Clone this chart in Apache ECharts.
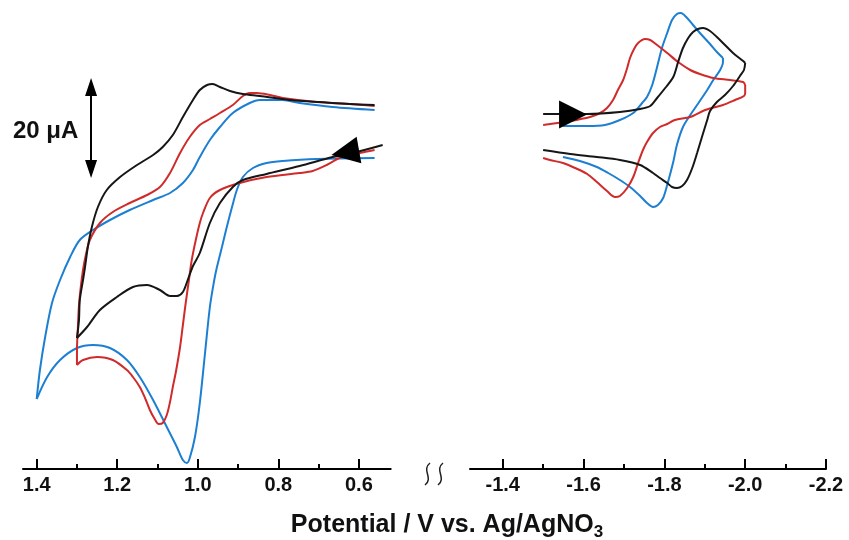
<!DOCTYPE html>
<html>
<head>
<meta charset="utf-8">
<script src="https://cdn.jsdelivr.net/npm/echarts@6/dist/echarts.min.js"></script>
<style>html,body{margin:0;padding:0;background:#fff}#chart{width:849px;height:540px}</style>
</head>
<body>
<div id="chart"></div>
<script>
// ---- Data: potential (V vs Ag/AgNO3), current (µA, arbitrary zero) ----
// Left panel (oxidation), forward scan (toward positive) and return scan
const leftBlackFwd = [[0.541,24.8],[0.605,23.4],[0.665,22.4],[0.747,20.6],[0.829,19.0],[0.888,17.8],[0.913,16.4],[0.945,13.2],[0.970,9.2],[0.995,3.2],[1.012,0.6],[1.025,-2.2],[1.037,-4.6],[1.052,-5.4],[1.069,-5.4],[1.094,-4.2],[1.126,-3.2],[1.161,-3.6],[1.201,-5.6],[1.243,-8.2],[1.275,-11.6],[1.300,-13.8]];
const leftBlackRev = [[1.300,-13.8],[1.295,-10.2],[1.293,-6.2],[1.285,-2.2],[1.280,0.4],[1.273,4.4],[1.263,8.4],[1.248,12.4],[1.226,15.8],[1.193,18.4],[1.151,20.8],[1.111,22.8],[1.087,24.4],[1.062,26.8],[1.037,30.4],[1.012,33.8],[0.995,35.8],[0.977,36.8],[0.963,37.0],[0.945,36.4],[0.920,35.6],[0.888,35.0],[0.846,34.6],[0.772,33.8],[0.697,33.4],[0.623,33.0],[0.561,32.8]];
const leftRedFwd = [[0.561,23.8],[0.598,23.2],[0.648,22.2],[0.680,20.8],[0.715,19.6],[0.747,19.2],[0.829,18.4],[0.896,17.2],[0.945,15.8],[0.970,14.2],[0.987,11.2],[0.995,9.2],[1.005,5.8],[1.015,1.8],[1.022,-2.2],[1.030,-6.8],[1.037,-11.2],[1.044,-15.6],[1.054,-20.4],[1.062,-23.6],[1.069,-26.6],[1.077,-29.2],[1.087,-30.8],[1.097,-31.0],[1.107,-30.0],[1.119,-28.2],[1.131,-25.8],[1.144,-23.6],[1.161,-21.6],[1.176,-20.2],[1.211,-18.2],[1.250,-17.6],[1.285,-18.2],[1.300,-19.2]];
const leftRedRev = [[1.300,-19.2],[1.300,-16.2],[1.298,-12.2],[1.295,-7.2],[1.290,-3.2],[1.285,-0.2],[1.278,2.8],[1.268,5.8],[1.243,9.2],[1.211,11.4],[1.169,13.2],[1.126,14.8],[1.094,16.4],[1.069,19.2],[1.044,23.2],[1.020,26.4],[0.995,28.8],[0.970,30.0],[0.945,31.2],[0.913,32.8],[0.888,34.6],[0.871,35.2],[0.853,35.2],[0.821,34.8],[0.789,34.2],[0.705,33.4],[0.623,33.0],[0.561,32.6]];
const leftBlueFwd = [[0.561,22.2],[0.705,22.0],[0.789,21.6],[0.829,21.2],[0.863,20.2],[0.888,18.4],[0.903,15.8],[0.915,12.4],[0.928,8.4],[0.940,4.4],[0.953,0.2],[0.960,-2.6],[0.970,-7.6],[0.982,-16.8],[0.995,-26.8],[1.007,-33.6],[1.020,-37.8],[1.027,-38.8],[1.037,-38.2],[1.052,-35.6],[1.077,-31.6],[1.111,-26.2],[1.144,-21.6],[1.176,-18.2],[1.218,-15.8],[1.260,-15.2],[1.300,-15.8],[1.342,-18.2],[1.374,-21.6],[1.400,-26.0]];
const leftBlueRev = [[1.400,-26.0],[1.392,-20.2],[1.379,-13.6],[1.362,-6.8],[1.342,-2.2],[1.317,2.4],[1.293,5.8],[1.260,7.8],[1.218,9.8],[1.169,11.8],[1.111,13.8],[1.069,15.2],[1.037,17.2],[1.012,19.8],[0.995,22.4],[0.970,25.8],[0.945,28.4],[0.913,31.2],[0.871,33.2],[0.846,33.8],[0.789,33.8],[0.747,33.2],[0.665,32.4],[0.561,31.8]];

// Right panel (reduction), forward scan (toward negative) and return scan
const rightBlackFwd = [[-1.500,31.0],[-1.609,31.0],[-1.690,31.4],[-1.740,32.0],[-1.765,32.6],[-1.782,34.2],[-1.802,36.2],[-1.822,38.4],[-1.834,41.4],[-1.846,44.2],[-1.859,46.2],[-1.871,47.4],[-1.883,48.0],[-1.896,48.2],[-1.913,47.6],[-1.930,46.4],[-1.950,44.8],[-1.970,43.2],[-1.995,41.6],[-2.000,41.2]];
const rightBlackRev = [[-2.000,41.2],[-1.997,39.8],[-1.987,38.6],[-1.970,36.6],[-1.950,34.8],[-1.930,33.4],[-1.913,31.6],[-1.906,29.8],[-1.893,26.4],[-1.881,23.2],[-1.869,20.2],[-1.856,17.8],[-1.844,16.6],[-1.831,16.2],[-1.819,16.4],[-1.807,17.2],[-1.789,18.2],[-1.772,19.2],[-1.740,20.8],[-1.690,21.8],[-1.633,22.4],[-1.567,23.0],[-1.500,23.8]];
const rightRedFwd = [[-1.500,28.8],[-1.567,29.6],[-1.616,30.4],[-1.641,31.2],[-1.658,32.2],[-1.673,33.8],[-1.685,35.8],[-1.698,37.8],[-1.708,40.2],[-1.715,42.2],[-1.725,44.0],[-1.735,45.2],[-1.752,46.0],[-1.765,45.8],[-1.782,44.8],[-1.807,43.2],[-1.834,41.4],[-1.864,39.8],[-1.888,39.0],[-1.921,38.2],[-1.963,37.8],[-1.995,37.4],[-2.000,36.8]];
const rightRedRev = [[-2.000,36.8],[-2.000,35.2],[-1.997,34.6],[-1.975,33.8],[-1.945,32.8],[-1.901,31.8],[-1.864,30.4],[-1.826,29.8],[-1.807,29.0],[-1.789,28.4],[-1.772,27.2],[-1.757,25.4],[-1.747,23.8],[-1.735,21.2],[-1.723,18.4],[-1.708,16.2],[-1.690,14.6],[-1.678,14.4],[-1.658,15.6],[-1.633,17.4],[-1.609,19.0],[-1.579,20.2],[-1.549,21.2],[-1.517,21.8],[-1.500,22.2]];
const rightBlueFwd = [[-1.549,28.6],[-1.609,28.6],[-1.653,28.8],[-1.690,29.8],[-1.723,31.2],[-1.745,33.2],[-1.757,34.4],[-1.770,36.8],[-1.782,40.4],[-1.794,44.2],[-1.807,47.2],[-1.819,49.8],[-1.831,51.0],[-1.841,51.2],[-1.854,50.4],[-1.871,48.8],[-1.888,47.2],[-1.913,45.0],[-1.930,43.4],[-1.945,42.2]];
const rightBlueRev = [[-1.945,42.2],[-1.945,41.4],[-1.938,39.8],[-1.921,37.8],[-1.906,35.8],[-1.881,32.8],[-1.864,30.8],[-1.846,28.4],[-1.831,24.8],[-1.822,21.4],[-1.807,16.8],[-1.797,14.2],[-1.784,12.8],[-1.772,12.4],[-1.757,13.2],[-1.740,14.6],[-1.715,16.4],[-1.690,17.8],[-1.661,19.2],[-1.633,20.4],[-1.591,21.6],[-1.549,22.4]];

// Scan-direction arrows [potential, current, rotation deg]
const leftArrow = [0.634, 23.3, 100];
const rightArrow = [-1.574, 30.9, -90];

// Scale bar: 20 µA (arrow tip to arrow tip)
const scaleBarE = 1.265;
const scaleBarI = [18.2, 38.2];
const scaleBarLabel = '20 μA';

// Axis ticks
const leftMajor = [0.6, 0.8, 1.0, 1.2, 1.4];
const leftMinor = [0.7, 0.9, 1.1, 1.3];
const rightMajor = [-1.4, -1.6, -1.8, -2.0, -2.2];
const rightMinor = [-1.5, -1.7, -1.9, -2.1];
const leftRange = [0.521, 1.434];
const rightRange = [-2.2, -1.319];
const yRange = [-40, 52];
const axisTitle = 'Potential / V vs. Ag/AgNO';
const axisTitleSub = '3';

const BLACK = '#161616', RED = '#d02b2b', BLUE = '#1c7fd2';
const FONT = '"Liberation Sans", Arial, sans-serif';
const PLOT_H = 460;
const ARROW_LEN = 18;
const arrowInset = ARROW_LEN / 2 * (yRange[1] - yRange[0]) / PLOT_H;

const chart = echarts.init(document.getElementById('chart'), null, {renderer: 'canvas'});

function majorAxis(grid, range, ticks) {
  return {
    gridIndex: grid, type: 'value', position: 'bottom', min: range[0], max: range[1], inverse: true,
    axisLine: {show: true, onZero: false, lineStyle: {color: '#000', width: 2}},
    axisTick: {show: true, inside: true, length: 10, customValues: ticks, lineStyle: {color: '#000', width: 2}},
    axisLabel: {show: true, customValues: ticks, formatter: v => v.toFixed(1), fontSize: 20, fontWeight: 'bold', color: '#111', fontFamily: FONT, margin: 6},
    splitLine: {show: false}
  };
}
function minorAxis(grid, range, ticks) {
  return {
    gridIndex: grid, type: 'value', position: 'bottom', offset: 0, min: range[0], max: range[1], inverse: true,
    axisLine: {show: false, onZero: false},
    axisTick: {show: true, inside: true, length: 5, customValues: ticks, lineStyle: {color: '#000', width: 2}},
    axisLabel: {show: false},
    splitLine: {show: false}
  };
}
function cv(data, color, xi, yi) {
  return {type: 'line', data: data, xAxisIndex: xi, yAxisIndex: yi, showSymbol: false, symbol: 'none',
    smooth: 0.3, clip: false, lineStyle: {color: color, width: 2}, silent: true};
}

const option = {
  animation: false,
  backgroundColor: '#fff',
  grid: [
    {left: 23, top: 9, width: 367.7, height: PLOT_H},
    {left: 470, top: 9, width: 356, height: PLOT_H}
  ],
  xAxis: [
    majorAxis(0, leftRange, leftMajor),
    minorAxis(0, leftRange, leftMinor),
    majorAxis(1, rightRange, rightMajor),
    minorAxis(1, rightRange, rightMinor)
  ],
  yAxis: [
    {gridIndex: 0, type: 'value', min: yRange[0], max: yRange[1], show: false},
    {gridIndex: 1, type: 'value', min: yRange[0], max: yRange[1], show: false}
  ],
  series: [
    cv(leftBlueFwd, BLUE, 0, 0), cv(leftBlueRev, BLUE, 0, 0),
    cv(leftRedFwd, RED, 0, 0), cv(leftRedRev, RED, 0, 0),
    cv(leftBlackFwd, BLACK, 0, 0), cv(leftBlackRev, BLACK, 0, 0),
    cv(rightBlueFwd, BLUE, 2, 1), cv(rightBlueRev, BLUE, 2, 1),
    cv(rightRedFwd, RED, 2, 1), cv(rightRedRev, RED, 2, 1),
    cv(rightBlackFwd, BLACK, 2, 1), cv(rightBlackRev, BLACK, 2, 1),
    {type: 'scatter', xAxisIndex: 0, yAxisIndex: 0, symbol: 'triangle', symbolSize: [27, 28],
      symbolRotate: leftArrow[2], data: [[leftArrow[0], leftArrow[1]]], itemStyle: {color: '#000', opacity: 1}, z: 5, silent: true},
    {type: 'scatter', xAxisIndex: 2, yAxisIndex: 1, symbol: 'triangle', symbolSize: [28, 28],
      symbolRotate: rightArrow[2], data: [[rightArrow[0], rightArrow[1]]], itemStyle: {color: '#000', opacity: 1}, z: 5, silent: true},
    {type: 'line', xAxisIndex: 0, yAxisIndex: 0, data: [], silent: true,
      markLine: {silent: true, symbol: ['triangle', 'triangle'], symbolSize: [12, ARROW_LEN],
        label: {show: false}, lineStyle: {color: '#000', width: 2, type: 'solid'},
        data: [[{coord: [scaleBarE, scaleBarI[0] + arrowInset]}, {coord: [scaleBarE, scaleBarI[1] - arrowInset]}]]}}
  ],
  graphic: [
    {type: 'text', x: 13, y: 131, silent: true,
      style: {text: scaleBarLabel, font: 'bold 24px ' + FONT, fill: '#111', align: 'left', verticalAlign: 'middle'}},
    {type: 'text', x: 447, y: 525, silent: true,
      style: {text: '{a|' + axisTitle + '}{b|' + axisTitleSub + '}', align: 'center', verticalAlign: 'middle', fill: '#111',
        rich: {a: {font: 'bold 25px ' + FONT, fill: '#111'}, b: {font: 'bold 17px ' + FONT, fill: '#111', padding: [14, 0, 0, 0]}}}},
    {type: 'bezierCurve', silent: true, shape: {x1: 430, y1: 463, cpx1: 421, cpy1: 470, cpx2: 434, cpy2: 478, x2: 425, y2: 485},
      style: {stroke: '#222', lineWidth: 1.5, fill: null}},
    {type: 'bezierCurve', silent: true, shape: {x1: 443, y1: 463, cpx1: 434, cpy1: 470, cpx2: 447, cpy2: 478, x2: 438, y2: 485},
      style: {stroke: '#222', lineWidth: 1.5, fill: null}}
  ]
};
chart.setOption(option);
</script>
</body>
</html>
